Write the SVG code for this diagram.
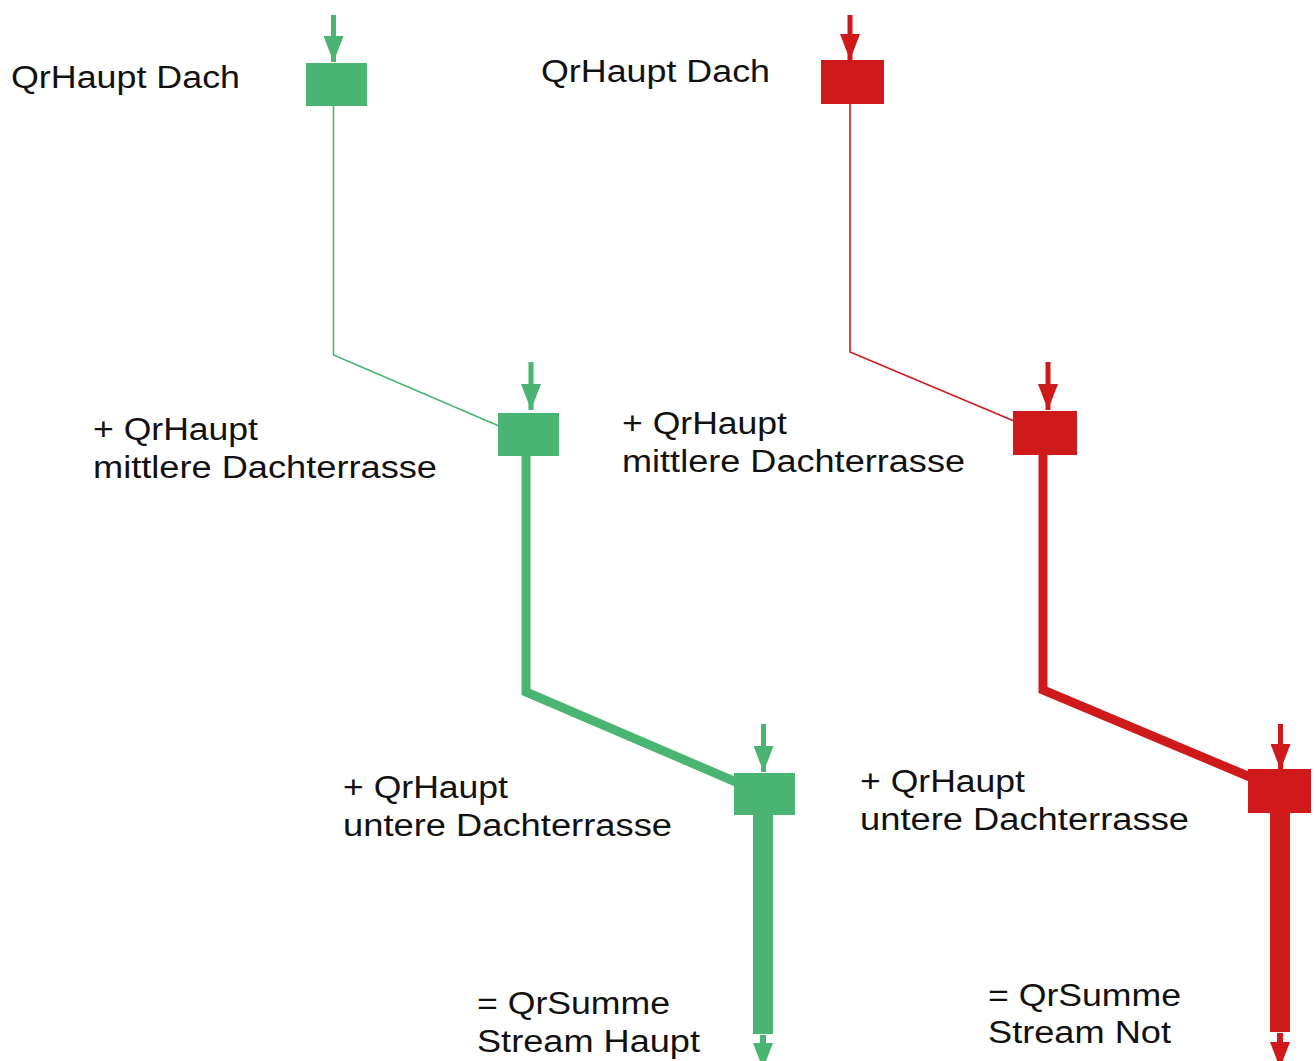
<svg xmlns="http://www.w3.org/2000/svg" width="1316" height="1061" viewBox="0 0 1316 1061">
  <style>
    .g { fill: #4ab472; }
    .r { fill: #d0191b; }
    .lg { stroke: #4ab472; fill: none; }
    .lr { stroke: #d0191b; fill: none; }
    .t { font-family: "Liberation Sans", Arial, sans-serif; font-size: 31px; fill: #111111; }
  </style>
  <defs>
    <marker id="ag" viewBox="0 0 26 20" markerUnits="userSpaceOnUse" markerWidth="26" markerHeight="20" refX="26" refY="10" orient="auto">
      <path d="M0,0 L26,10 L0,20 z" fill="#4ab472"/>
    </marker>
    <marker id="ar" viewBox="0 0 26 20" markerUnits="userSpaceOnUse" markerWidth="26" markerHeight="20" refX="26" refY="10" orient="auto">
      <path d="M0,0 L26,10 L0,20 z" fill="#d0191b"/>
    </marker>
  </defs>
  <rect width="1316" height="1061" fill="#ffffff"/>

  <g id="connectors">
    <!-- green inputs -->
    <line class="lg" x1="333.5" y1="15" x2="333.5" y2="62" stroke-width="5" marker-end="url(#ag)"/>
    <line class="lg" x1="531" y1="362" x2="531" y2="410" stroke-width="5" marker-end="url(#ag)"/>
    <line class="lg" x1="763.5" y1="724" x2="763.5" y2="772" stroke-width="5" marker-end="url(#ag)"/>
    <!-- red inputs -->
    <line class="lr" x1="850" y1="15" x2="850" y2="60" stroke-width="5" marker-end="url(#ar)"/>
    <line class="lr" x1="1048" y1="362" x2="1048" y2="410" stroke-width="5" marker-end="url(#ar)"/>
    <line class="lr" x1="1280.5" y1="724" x2="1280.5" y2="770" stroke-width="5" marker-end="url(#ar)"/>
    <!-- green flow -->
    <polyline class="lg" points="333.5,106 333.5,355 499,426" stroke-width="1.6"/>
    <polyline class="lg" points="526,456 526,692 736,782" stroke-width="9"/>
    <line class="lg" x1="763" y1="815" x2="763" y2="1034" stroke-width="20"/>
    <line class="lg" x1="763" y1="1035" x2="763" y2="1069" stroke-width="6" marker-end="url(#ag)"/>
    <!-- red flow -->
    <polyline class="lr" points="850,104 850,352 1014,421" stroke-width="1.6"/>
    <polyline class="lr" points="1043,455 1043,690 1250,777" stroke-width="9"/>
    <line class="lr" x1="1280" y1="813" x2="1280" y2="1032" stroke-width="20"/>
    <line class="lr" x1="1280" y1="1033" x2="1280" y2="1068" stroke-width="6" marker-end="url(#ar)"/>
  </g>

  <g id="node-green-dach">
    <rect class="g" x="306" y="63" width="61" height="43"/>
    <text class="t" x="11" y="88" textLength="229" lengthAdjust="spacingAndGlyphs">QrHaupt Dach</text>
  </g>
  <g id="node-green-mittlere">
    <rect class="g" x="498" y="413" width="61" height="43"/>
    <text class="t" x="93" y="440" textLength="165" lengthAdjust="spacingAndGlyphs">+ QrHaupt</text>
    <text class="t" x="93" y="478" textLength="344" lengthAdjust="spacingAndGlyphs">mittlere Dachterrasse</text>
  </g>
  <g id="node-green-untere">
    <rect class="g" x="734" y="773" width="61" height="42"/>
    <text class="t" x="343" y="798" textLength="165" lengthAdjust="spacingAndGlyphs">+ QrHaupt</text>
    <text class="t" x="343" y="836" textLength="329" lengthAdjust="spacingAndGlyphs">untere Dachterrasse</text>
  </g>
  <g id="node-green-summe">
    <text class="t" x="477" y="1014" textLength="193" lengthAdjust="spacingAndGlyphs">= QrSumme</text>
    <text class="t" x="477" y="1052" textLength="223" lengthAdjust="spacingAndGlyphs">Stream Haupt</text>
  </g>

  <g id="node-red-dach">
    <rect class="r" x="821" y="60" width="63" height="44"/>
    <text class="t" x="541" y="82" textLength="229" lengthAdjust="spacingAndGlyphs">QrHaupt Dach</text>
  </g>
  <g id="node-red-mittlere">
    <rect class="r" x="1013" y="411" width="64" height="44"/>
    <text class="t" x="622" y="434" textLength="165" lengthAdjust="spacingAndGlyphs">+ QrHaupt</text>
    <text class="t" x="622" y="472" textLength="343" lengthAdjust="spacingAndGlyphs">mittlere Dachterrasse</text>
  </g>
  <g id="node-red-untere">
    <rect class="r" x="1248" y="769" width="63" height="44"/>
    <text class="t" x="860" y="792" textLength="165" lengthAdjust="spacingAndGlyphs">+ QrHaupt</text>
    <text class="t" x="860" y="830" textLength="329" lengthAdjust="spacingAndGlyphs">untere Dachterrasse</text>
  </g>
  <g id="node-red-summe">
    <text class="t" x="988" y="1006" textLength="193" lengthAdjust="spacingAndGlyphs">= QrSumme</text>
    <text class="t" x="988" y="1043" textLength="183" lengthAdjust="spacingAndGlyphs">Stream Not</text>
  </g>
</svg>
